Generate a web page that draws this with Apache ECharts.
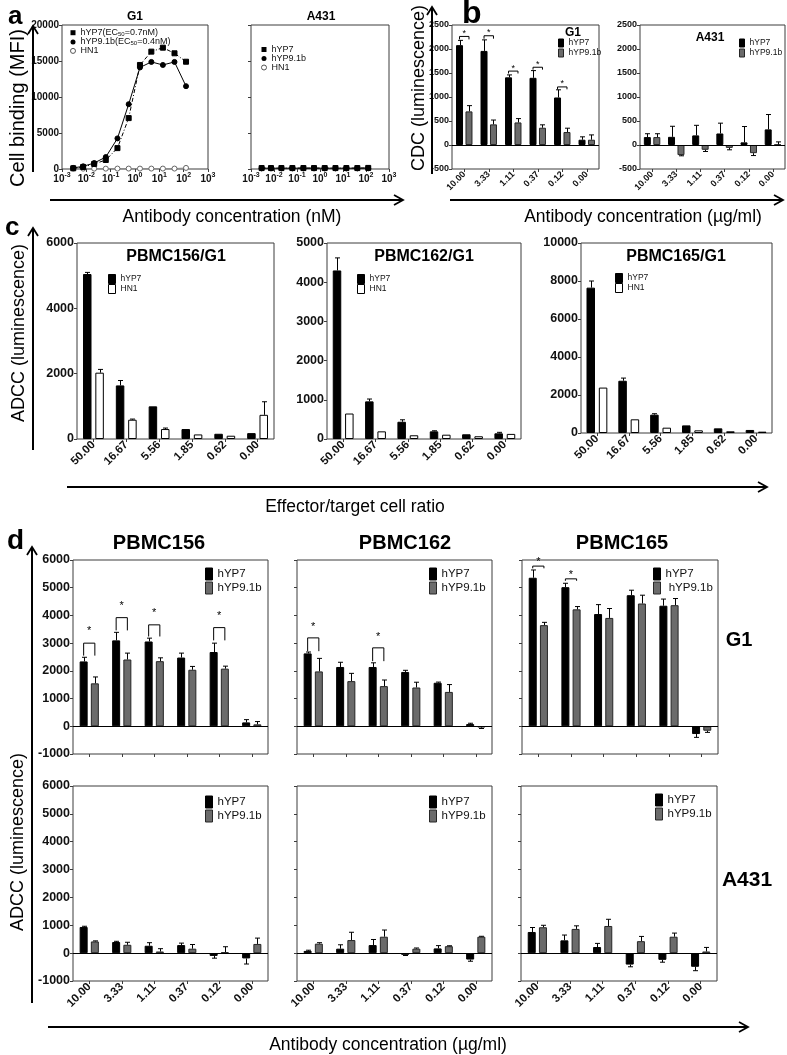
<!DOCTYPE html>
<html><head><meta charset="utf-8">
<script src="https://cdn.jsdelivr.net/npm/echarts@6/dist/echarts.min.js"></script>
<style>html,body{margin:0;padding:0;background:#fff}#c{width:787px;height:1055px}</style>
</head><body><div id="c"></div>
<script>
// ================= DATA =================
// Panel a: cell binding (MFI) vs antibody concentration (nM)
const concNM = [0.0029, 0.0074, 0.021, 0.063, 0.19, 0.55, 1.6, 4.7, 14, 42, 125];
const aG1_hYP7   = [100, 280, 700, 1250, 2900, 7070, 14450, 16300, 16850, 16070, 14900];
const aG1_hYP91b = [150, 370, 830, 1660, 4250, 9000, 14100, 14870, 14450, 14870, 11500];
const aG1_HN1    = [50, 50, 50, 50, 60, 60, 60, 60, 60, 60, 150];
const aA431_hYP7   = [130, 130, 130, 130, 130, 130, 130, 130, 130, 130, 150];
const aA431_hYP91b = [110, 110, 110, 110, 110, 110, 110, 110, 110, 110, 120];
const aA431_HN1    = [80, 80, 80, 80, 80, 80, 80, 80, 80, 80, 90];

// Panel b: CDC (luminescence)
const concCats = ['10.00', '3.33', '1.11', '0.37', '0.12', '0.00'];
const bG1_hYP7       = [2080, 1960, 1410, 1400, 990, 110];
const bG1_hYP7_err   = [100, 230, 50, 150, 160, 60];
const bG1_hYP91b     = [700, 430, 470, 360, 270, 110];
const bG1_hYP91b_err = [120, 90, 80, 60, 80, 100];
const bG1_brackets   = [[0, 2262, 2200, 2200], [1, 2276, 2215, 2215], [2, 1540, 1490, 1490], [3, 1620, 1570, 1570], [4, 1210, 1160, 1160]];
const bA_hYP7        = [165, 170, 200, 240, 55, 325];
const bA_hYP7_err    = [70, 220, 210, 215, 330, 310];
const bA_hYP91b      = [165, -210, -100, -60, -170, 10];
const bA_hYP91b_err  = [70, 15, 35, 40, 50, 55];

// Panel c: ADCC vs effector/target ratio
const ratioCats = ['50.00', '16.67', '5.56', '1.85', '0.62', '0.00'];
const c156_hYP7     = [5050, 1640, 1000, 305, 160, 180];
const c156_hYP7_err = [50, 150, 0, 0, 0, 0];
const c156_HN1      = [2030, 590, 305, 140, 100, 740];
const c156_HN1_err  = [100, 20, 30, 0, 0, 400];
const c162_hYP7     = [4300, 960, 440, 195, 120, 145];
const c162_hYP7_err = [320, 60, 50, 15, 0, 25];
const c162_HN1      = [650, 195, 95, 110, 70, 130];
const c162_HN1_err  = [0, 0, 0, 0, 0, 0];
const c165_hYP7     = [7650, 2750, 965, 400, 245, 160];
const c165_hYP7_err = [350, 140, 50, 0, 0, 0];
const c165_HN1      = [2390, 720, 280, 140, 90, 70];
const c165_HN1_err  = [0, 0, 0, 0, 0, 0];

// Panel d: ADCC vs antibody concentration (ug/ml)
const d156G1_hYP7       = [2340, 3100, 3060, 2480, 2680, 140];
const d156G1_hYP7_err   = [150, 290, 120, 160, 320, 100];
const d156G1_hYP91b     = [1550, 2410, 2350, 2040, 2080, 70];
const d156G1_hYP91b_err = [230, 230, 120, 120, 90, 100];
const d156G1_brackets   = [[0, 3000, 2550, 2550], [1, 3920, 3460, 3460], [2, 3660, 3240, 3240], [4, 3560, 3100, 3100]];
const d162G1_hYP7       = [2630, 2140, 2140, 1960, 1570, 80];
const d162G1_hYP7_err   = [50, 170, 150, 60, 25, 30];
const d162G1_hYP91b     = [1980, 1630, 1450, 1400, 1240, -40];
const d162G1_hYP91b_err = [470, 280, 220, 190, 265, 40];
const d162G1_brackets   = [[0, 3190, 2710, 2710], [2, 2830, 2350, 2350]];
const d165G1_hYP7       = [5360, 5020, 4050, 4730, 4350, -280];
const d165G1_hYP7_err   = [280, 140, 340, 180, 240, 120];
const d165G1_hYP91b     = [3650, 4220, 3910, 4430, 4370, -160];
const d165G1_hYP91b_err = [100, 100, 340, 300, 240, 60];
const d165G1_brackets   = [[0, 5780, 5700, 5700], [1, 5320, 5250, 5250]];
const d156A_hYP7        = [940, 400, 265, 290, -100, -190];
const d156A_hYP7_err    = [25, 25, 110, 70, 80, 200];
const d156A_hYP91b      = [420, 300, 60, 160, 40, 330];
const d156A_hYP91b_err  = [20, 90, 100, 150, 190, 210];
const d162A_hYP7        = [80, 160, 290, -60, 170, -230];
const d162A_hYP7_err    = [25, 140, 200, 25, 100, 60];
const d162A_hYP91b      = [340, 470, 590, 160, 250, 590];
const d162A_hYP91b_err  = [35, 280, 240, 25, 15, 15];
const d165A_hYP7        = [760, 460, 220, -410, -240, -490];
const d165A_hYP7_err    = [160, 190, 130, 80, 85, 140];
const d165A_hYP91b      = [930, 870, 975, 430, 590, 60];
const d165A_hYP91b_err  = [70, 110, 240, 170, 130, 145];

// ================= BUILD =================
const FONT = "'Liberation Sans', Arial, sans-serif";
const BLACK = '#000000', GRAY = '#6b6b6b', GRAYB = '#262626', WHITE = '#ffffff', FRAME = '#3c3c3c';
const grids = [], xAxes = [], yAxes = [], series = [], legends = [], gfx = [];

function addGrid(l, t, w, h) {
  grids.push({left: l, top: t, width: w, height: h, show: true, borderColor: FRAME, borderWidth: 1, containLabel: false});
  return grids.length - 1;
}
function catAxis(gi, cats, show, fs) {
  xAxes.push({type: 'category', gridIndex: gi, data: cats, boundaryGap: true,
    axisLine: {show: false, onZero: false},
    axisTick: {show: true, alignWithLabel: true, length: 3, lineStyle: {color: FRAME}},
    axisLabel: {show: show, interval: 0, rotate: 45, fontSize: fs, fontWeight: 'bold', fontFamily: FONT, color: '#111', margin: 4},
    splitLine: {show: false}});
}
function plainNum(v) { return String(v); }
function valAxis(gi, min, max, interval, show, fs) {
  yAxes.push({type: 'value', gridIndex: gi, min: min, max: max, interval: interval,
    axisLine: {show: false}, axisTick: {show: true, length: 3, lineStyle: {color: FRAME}},
    axisLabel: {show: show, formatter: plainNum, fontSize: fs, fontWeight: 'bold', fontFamily: FONT, color: '#111', margin: 3},
    splitLine: {show: false}});
}
function errRender(bw, gapR, side) {
  return function (params, api) {
    const i = api.value(0), v = api.value(1), e = api.value(2);
    if (!e) return;
    const off = side * (bw + bw * gapR) / 2;
    const p0 = api.coord([i, v]);
    const p1 = api.coord([i, v >= 0 ? v + e : v - e]);
    const x = Math.round(p0[0] + off) + 0.5;
    return {type: 'group', children: [
      {type: 'line', shape: {x1: x, y1: p0[1], x2: x, y2: p1[1]}, style: {stroke: '#000', lineWidth: 1}},
      {type: 'line', shape: {x1: x - 2.5, y1: p1[1], x2: x + 2.5, y2: p1[1]}, style: {stroke: '#000', lineWidth: 1}}
    ]};
  };
}
function bracketRender(bw, gapR, starGap, starSize) {
  return function (params, api) {
    const i = api.value(0), lvl = api.value(1), legL = api.value(2), legR = api.value(3);
    const off = (bw + bw * gapR) / 2;
    const c = api.coord([i, lvl]);
    const yl = api.coord([i, legL])[1], yr = api.coord([i, legR])[1];
    const xL = c[0] - off, xR = c[0] + off;
    return {type: 'group', children: [
      {type: 'polyline', shape: {points: [[xL, yl], [xL, c[1]], [xR, c[1]], [xR, yr]]}, style: {stroke: '#000', lineWidth: 1, fill: null}},
      {type: 'text', x: (xL + xR) / 2, y: c[1] - starGap, style: {text: '*', font: starSize + 'px ' + FONT, textAlign: 'center', align: 'center', textVerticalAlign: 'middle', verticalAlign: 'middle', fill: '#000'}}
    ]};
  };
}
function barPanel(cfg) {
  const gi = addGrid(cfg.l, cfg.t, cfg.w, cfg.h);
  catAxis(gi, cfg.cats, cfg.showX, cfg.xfs);
  valAxis(gi, cfg.min, cfg.max, cfg.interval, cfg.showY, cfg.yfs);
  cfg.groups.forEach(function (g, k) {
    const s = {type: 'bar', name: g.name, xAxisIndex: gi, yAxisIndex: gi, data: g.vals, barWidth: cfg.bw,
      barGap: Math.round(cfg.gap * 100) + '%', itemStyle: {color: g.fill, borderColor: g.stroke, borderWidth: 1}, silent: true, z: 2};
    if (k === 0 && cfg.zero) {
      s.markLine = {silent: true, symbol: ['none', 'none'], label: {show: false}, animation: false,
        lineStyle: {color: '#000', width: 1, type: 'solid'}, data: [{yAxis: 0}]};
    }
    series.push(s);
    series.push({type: 'custom', xAxisIndex: gi, yAxisIndex: gi, silent: true, z: 3,
      data: g.vals.map(function (v, i) { return [i, v, g.errs[i]]; }),
      renderItem: errRender(cfg.bw, cfg.gap, k === 0 ? -1 : 1)});
  });
  if (cfg.brackets) {
    series.push({type: 'custom', xAxisIndex: gi, yAxisIndex: gi, silent: true, z: 4, data: cfg.brackets,
      renderItem: bracketRender(cfg.bw, cfg.gap, cfg.starGap, cfg.starSize)});
  }
  return gi;
}
function legendRects(left, top, items, iw, ih, fs, lh, fmt) {
  const L = {orient: 'vertical', left: left, top: top, padding: 0, itemGap: 0, itemWidth: iw, itemHeight: ih,
    selectedMode: false, textStyle: {fontSize: fs, fontFamily: FONT, color: '#111', lineHeight: lh},
    data: items};
  if (fmt) L.formatter = fmt;
  legends.push(L);
}
const itHYP7 = {name: 'hYP7', icon: 'rect', itemStyle: {color: BLACK, borderColor: BLACK, borderWidth: 1}};
const itHYP91b = {name: 'hYP9.1b', icon: 'rect', itemStyle: {color: GRAY, borderColor: GRAYB, borderWidth: 1}};
const itHN1bar = {name: 'HN1', icon: 'rect', itemStyle: {color: WHITE, borderColor: BLACK, borderWidth: 1}};

// ---------- Panel a ----------
const logRich = {
  b: {fontSize: 10, fontWeight: 'bold', fontFamily: FONT, color: '#111', verticalAlign: 'bottom', lineHeight: 12},
  s: {fontSize: 7, fontWeight: 'bold', fontFamily: FONT, color: '#111', verticalAlign: 'top', lineHeight: 12}
};
function logFmt(v) { return '{b|10}{s|' + Math.round(Math.log10(v)) + '}'; }
function logPanel(l, t, w, h, showY, sets) {
  const gi = addGrid(l, t, w, h);
  xAxes.push({type: 'log', gridIndex: gi, logBase: 10, min: 0.001, max: 1000, splitNumber: 6,
    axisLine: {show: false, onZero: false}, axisTick: {show: true, length: 3, lineStyle: {color: FRAME}},
    minorTick: {show: false}, splitLine: {show: false},
    axisLabel: {formatter: logFmt, rich: logRich, margin: 3, showMinLabel: true, showMaxLabel: true}});
  valAxis(gi, 0, 20000, 5000, showY, 10);
  sets.forEach(function (s) {
    series.push({type: 'line', name: s.name, xAxisIndex: gi, yAxisIndex: gi, silent: true,
      data: concNM.map(function (c, i) { return [c, s.vals[i]]; }),
      symbol: s.symbol, symbolSize: s.size, z: s.z,
      lineStyle: {color: s.lineColor, width: s.lw, type: s.dash},
      itemStyle: {color: s.fill, borderColor: s.stroke, borderWidth: 1}});
  });
  return gi;
}
logPanel(62, 25, 146, 144, true, [
  {name: 'HN1', vals: aG1_HN1, symbol: 'circle', size: 5, fill: WHITE, stroke: '#666', lineColor: '#888', lw: 0.8, dash: 'solid', z: 2},
  {name: 'hYP7', vals: aG1_hYP7, symbol: 'rect', size: 5, fill: BLACK, stroke: BLACK, lineColor: '#000', lw: 1, dash: [4, 2, 1, 2], z: 3},
  {name: 'hYP9.1b', vals: aG1_hYP91b, symbol: 'circle', size: 5, fill: BLACK, stroke: BLACK, lineColor: '#000', lw: 1, dash: 'solid', z: 4}
]);
logPanel(251, 25, 138, 144, false, [
  {name: 'HN1', vals: aA431_HN1, symbol: 'circle', size: 5, fill: WHITE, stroke: '#666', lineColor: '#888', lw: 0.8, dash: 'solid', z: 2},
  {name: 'hYP7', vals: aA431_hYP7, symbol: 'rect', size: 5, fill: BLACK, stroke: BLACK, lineColor: '#000', lw: 1, dash: [4, 2, 1, 2], z: 3},
  {name: 'hYP9.1b', vals: aA431_hYP91b, symbol: 'circle', size: 5, fill: BLACK, stroke: BLACK, lineColor: '#000', lw: 1, dash: 'solid', z: 4}
]);
const aItems = [
  {name: 'hYP7', icon: 'rect', itemStyle: {color: BLACK, borderColor: BLACK, borderWidth: 0}},
  {name: 'hYP9.1b', icon: 'circle', itemStyle: {color: BLACK, borderColor: BLACK, borderWidth: 0}},
  {name: 'HN1', icon: 'circle', itemStyle: {color: WHITE, borderColor: '#555', borderWidth: 1}}
];
legends.push({orient: 'vertical', left: 70, top: 28, padding: 0, itemGap: 0, itemWidth: 5, itemHeight: 5, selectedMode: false,
  textStyle: {fontSize: 9, fontFamily: FONT, color: '#111', lineHeight: 8.6,
    rich: {t: {fontSize: 9, fontFamily: FONT, color: '#111', lineHeight: 8.6},
           s: {fontSize: 6, fontFamily: FONT, color: '#111', lineHeight: 8.6, verticalAlign: 'bottom', padding: [3, 0, 0, 0]}}},
  formatter: function (n) {
    if (n === 'hYP7') return '{t|hYP7(EC}{s|50}{t|=0.7nM)}';
    if (n === 'hYP9.1b') return '{t|hYP9.1b(EC}{s|50}{t|=0.4nM)}';
    return '{t|' + n + '}';
  },
  data: aItems});
legends.push({orient: 'vertical', left: 261, top: 45, padding: 0, itemGap: 0, itemWidth: 5, itemHeight: 5, selectedMode: false,
  textStyle: {fontSize: 9, fontFamily: FONT, color: '#111', lineHeight: 7.8}, data: aItems});

// ---------- Panel b ----------
barPanel({l: 452, t: 25, w: 147, h: 144, cats: concCats, showX: true, xfs: 9, min: -500, max: 2500, interval: 500, showY: true, yfs: 9,
  bw: 7, gap: 0.35, zero: true, starGap: 3, starSize: 9, brackets: bG1_brackets,
  groups: [{name: 'hYP7', vals: bG1_hYP7, errs: bG1_hYP7_err, fill: BLACK, stroke: BLACK},
           {name: 'hYP9.1b', vals: bG1_hYP91b, errs: bG1_hYP91b_err, fill: GRAY, stroke: GRAYB}]});
barPanel({l: 640, t: 25, w: 145, h: 144, cats: concCats, showX: true, xfs: 9, min: -500, max: 2500, interval: 500, showY: true, yfs: 9,
  bw: 7, gap: 0.35, zero: true,
  groups: [{name: 'hYP7', vals: bA_hYP7, errs: bA_hYP7_err, fill: BLACK, stroke: BLACK},
           {name: 'hYP9.1b', vals: bA_hYP91b, errs: bA_hYP91b_err, fill: GRAY, stroke: GRAYB}]});
legendRects(558, 38, [itHYP7, itHYP91b], 5, 8, 8.5, 10);
legendRects(739, 38, [itHYP7, itHYP91b], 5, 8, 8.5, 10);

// ---------- Panel c ----------
function cPanel(l, t, w, h, max, interval, a, ae, b, be) {
  barPanel({l: l, t: t, w: w, h: h, cats: ratioCats, showX: true, xfs: 11.5, min: 0, max: max, interval: interval, showY: true, yfs: 12.5,
    bw: 8.5, gap: 0.45, zero: false,
    groups: [{name: 'hYP7', vals: a, errs: ae, fill: BLACK, stroke: BLACK},
             {name: 'HN1', vals: b, errs: be, fill: WHITE, stroke: BLACK}]});
}
cPanel(77, 243, 197, 196, 6000, 2000, c156_hYP7, c156_hYP7_err, c156_HN1, c156_HN1_err);
cPanel(327, 243, 194, 196, 5000, 1000, c162_hYP7, c162_hYP7_err, c162_HN1, c162_HN1_err);
cPanel(581, 243, 191, 190, 10000, 2000, c165_hYP7, c165_hYP7_err, c165_HN1, c165_HN1_err);
legendRects(108, 274, [itHYP7, itHN1bar], 7, 9, 8.5, 10);
legendRects(357, 274, [itHYP7, itHN1bar], 7, 9, 8.5, 10);
legendRects(615, 273, [itHYP7, itHN1bar], 7, 9, 8.5, 10);

// ---------- Panel d ----------
function dPanel(l, t, w, h, showX, showY, a, ae, b, be, br, starGap) {
  barPanel({l: l, t: t, w: w, h: h, cats: concCats, showX: showX, xfs: 11.5, min: -1000, max: 6000, interval: 1000, showY: showY, yfs: 12.5,
    bw: 8, gap: 0.4, zero: true, brackets: br, starGap: starGap, starSize: 11,
    groups: [{name: 'hYP7', vals: a, errs: ae, fill: BLACK, stroke: BLACK},
             {name: 'hYP9.1b', vals: b, errs: be, fill: GRAY, stroke: GRAYB}]});
}
dPanel(73, 560, 195, 194, false, true, d156G1_hYP7, d156G1_hYP7_err, d156G1_hYP91b, d156G1_hYP91b_err, d156G1_brackets, 12);
dPanel(297, 560, 195, 194, false, false, d162G1_hYP7, d162G1_hYP7_err, d162G1_hYP91b, d162G1_hYP91b_err, d162G1_brackets, 11);
dPanel(522, 560, 196, 194, false, false, d165G1_hYP7, d165G1_hYP7_err, d165G1_hYP91b, d165G1_hYP91b_err, d165G1_brackets, 4);
dPanel(73, 786, 195, 195, true, true, d156A_hYP7, d156A_hYP7_err, d156A_hYP91b, d156A_hYP91b_err, null, 0);
dPanel(297, 786, 195, 195, true, false, d162A_hYP7, d162A_hYP7_err, d162A_hYP91b, d162A_hYP91b_err, null, 0);
dPanel(521, 786, 196, 195, true, false, d165A_hYP7, d165A_hYP7_err, d165A_hYP91b, d165A_hYP91b_err, null, 0);
legendRects(205, 567, [itHYP7, itHYP91b], 7, 12, 11.5, 14);
legendRects(429, 567, [itHYP7, itHYP91b], 7, 12, 11.5, 14);
legendRects(653, 567, [itHYP7, itHYP91b], 7, 12, 11.5, 14, function (n) { return n === 'hYP9.1b' ? ' hYP9.1b' : n; });
legendRects(205, 795, [itHYP7, itHYP91b], 7, 12, 11.5, 14);
legendRects(429, 795, [itHYP7, itHYP91b], 7, 12, 11.5, 14);
legendRects(655, 793, [itHYP7, itHYP91b], 7, 12, 11.5, 14);

// ---------- Decorations (text, arrows) ----------
function txt(x, y, s, font, opts) {
  opts = opts || {};
  gfx.push({type: 'text', x: x, y: y, rotation: opts.rot || 0, silent: true, z: 10,
    style: {text: s, font: font, fill: '#000', textAlign: opts.align || 'center', align: opts.align || 'center',
      textVerticalAlign: 'middle', verticalAlign: 'middle'}});
}
function poly(pts, lw) {
  gfx.push({type: 'polyline', silent: true, z: 10, shape: {points: pts}, style: {stroke: '#000', lineWidth: lw || 2, fill: null}});
}
function arrowUp(x, y0, y1) { poly([[x, y0], [x, y1 + 1]]); poly([[x - 5, y1 + 8], [x, y1], [x + 5, y1 + 8]], 1.8); }
function arrowRight(y, x0, x1) { poly([[x0, y], [x1 - 1, y]]); poly([[x1 - 9, y - 5], [x1, y], [x1 - 9, y + 5]], 1.8); }

const B = 'bold ';
txt(8, 17, 'a', B + '26px ' + FONT, {align: 'left'});
txt(462, 14, 'b', B + '32px ' + FONT, {align: 'left'});
txt(5, 228, 'c', B + '26px ' + FONT, {align: 'left'});
txt(7, 541, 'd', B + '28px ' + FONT, {align: 'left'});

txt(135, 17, 'G1', B + '12px ' + FONT);
txt(321, 17, 'A431', B + '12px ' + FONT);
txt(573, 33, 'G1', B + '12px ' + FONT);
txt(710, 38, 'A431', B + '12px ' + FONT);
txt(176, 257, 'PBMC156/G1', B + '16px ' + FONT);
txt(424, 257, 'PBMC162/G1', B + '16px ' + FONT);
txt(676, 257, 'PBMC165/G1', B + '16px ' + FONT);
txt(159, 543, 'PBMC156', B + '20px ' + FONT);
txt(405, 543, 'PBMC162', B + '20px ' + FONT);
txt(622, 543, 'PBMC165', B + '20px ' + FONT);
txt(739, 640, 'G1', B + '20px ' + FONT);
txt(747, 880, 'A431', B + '21px ' + FONT);

txt(18, 108, 'Cell binding (MFI)', '20px ' + FONT, {rot: Math.PI / 2});
txt(419, 88, 'CDC (luminescence)', '18px ' + FONT, {rot: Math.PI / 2});
txt(19, 333, 'ADCC (luminescence)', '18px ' + FONT, {rot: Math.PI / 2});
txt(18, 842, 'ADCC (luminescence)', '18px ' + FONT, {rot: Math.PI / 2});
txt(232, 217, 'Antibody concentration (nM)', '17.5px ' + FONT);
txt(643, 217, 'Antibody concentration (\u00b5g/ml)', '17.5px ' + FONT);
txt(355, 507, 'Effector/target cell ratio', '17.5px ' + FONT);
txt(388, 1045, 'Antibody concentration (\u00b5g/ml)', '17.5px ' + FONT);

arrowUp(33, 172, 26);
arrowRight(200, 50, 403);
arrowUp(432, 174, 7);
arrowRight(200, 450, 783);
arrowUp(33, 450, 228);
arrowRight(487, 67, 767);
arrowUp(32, 1003, 547);
arrowRight(1027, 48, 748);

const chart = echarts.init(document.getElementById('c'), null, {renderer: 'canvas'});
chart.setOption({
  animation: false,
  backgroundColor: '#ffffff',
  textStyle: {fontFamily: FONT},
  grid: grids, xAxis: xAxes, yAxis: yAxes, series: series, legend: legends,
  graphic: {elements: gfx}
});
</script></body></html>
